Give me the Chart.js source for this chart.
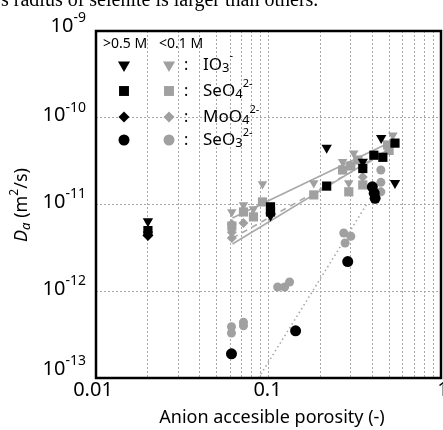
<!DOCTYPE html>
<html>
<head>
<meta charset="utf-8">
<script src="https://cdn.jsdelivr.net/npm/chart.js@4"></script>
<style>
  body { margin: 0; background: #fff; }
  canvas { display: block; }
</style>
</head>
<body>
<canvas id="chart" width="443" height="430"></canvas>
<script>
// >0.5 M (black markers)
const io3HighX  = [0.02, 0.02, 0.1027, 0.2174, 0.352, 0.45, 0.541];
const io3HighY  = [6.4e-12, 4.5e-12, 7.4e-12, 4.5e-11, 3.1e-11, 5.85e-11, 1.77e-11];
const seo4HighX = [0.02, 0.1027, 0.1027, 0.2174, 0.352, 0.408, 0.46, 0.541];
const seo4HighY = [5.0e-12, 9.4e-12, 8.2e-12, 1.63e-11, 2.6e-11, 3.7e-11, 3.5e-11, 5.1e-11];
const moo4HighX = [0.02];
const moo4HighY = [4.4e-12];
const seo3HighX = [0.061, 0.1436, 0.288, 0.40, 0.41, 0.415];
const seo3HighY = [1.9e-13, 3.5e-13, 2.2e-12, 1.6e-11, 1.35e-11, 1.18e-11];

// <0.1 M (grey markers)
const io3LowX  = [0.0613, 0.0716, 0.0818, 0.0923, 0.183, 0.269, 0.312, 0.292, 0.352, 0.526];
const io3LowY  = [8.2e-12, 9.9e-12, 8.9e-12, 1.72e-11, 1.77e-11, 3.1e-11, 3.9e-11, 1.77e-11, 2.5e-11, 6.3e-11];
const seo4LowX = [0.0613, 0.0716, 0.0818, 0.0923, 0.183, 0.269, 0.30, 0.33, 0.292, 0.352, 0.49, 0.50];
const seo4LowY = [5.65e-12, 8.2e-12, 7.2e-12, 1.07e-11, 1.29e-11, 2.5e-11, 2.78e-11, 3.26e-11, 1.4e-11, 1.68e-11, 4.85e-11, 4.2e-11];
const moo4LowX = [0.0613, 0.0613, 0.0613, 0.0716, 0.352];
const moo4LowY = [5.95e-12, 4.8e-12, 4.1e-12, 6.1e-12, 2.07e-11];
const seo3LowX = [0.061, 0.061, 0.0716, 0.0716, 0.113, 0.124, 0.1325, 0.273, 0.30, 0.278, 0.448, 0.448, 0.448];
const seo3LowY = [3.9e-13, 3.3e-13, 4.4e-13, 4.0e-13, 1.12e-12, 1.12e-12, 1.28e-12, 4.7e-12, 4.3e-12, 3.6e-12, 2.5e-11, 1.8e-11, 1.4e-11];

// fitted lines
const fitIo3X  = [0.0618, 0.512];
const fitIo3Y  = [7.0e-12, 5.25e-11];
const fitSeo4X = [0.0618, 0.512];
const fitSeo4Y = [4.1e-12, 4.25e-11];
const fitMoo4X = [0.0618, 0.512];
const fitMoo4Y = [3.5e-12, 4.5e-11];
const fitSeo3X = [0.0875, 0.37];
const fitSeo3Y = [1.0e-13, 1.0e-11];

// axis labels
const xTickValues = [0.01, 0.1, 1];
const xTickLabels = ['0.01', '0.1', '1'];
const yTickExps = [-9, -10, -11, -12, -13];

const BLACK = '#000000';
const GREY = '#a0a0a0';
const FONT = '"Noto Sans", sans-serif';

function pts(xs, ys) {
  return xs.map((x, i) => ({ x: x, y: ys[i] }));
}

function marks(label, xs, ys, color, style, radius, order) {
  return {
    label: label,
    data: pts(xs, ys),
    showLine: false,
    pointStyle: style,
    rotation: style === 'triangle' ? 180 : 0,
    pointRadius: radius,
    pointHoverRadius: radius,
    backgroundColor: color,
    borderColor: color,
    borderWidth: 0,
    order: order
  };
}

function fit(label, xs, ys, dash) {
  return {
    label: label,
    data: pts(xs, ys),
    showLine: true,
    pointRadius: 0,
    borderColor: '#a8a8a8',
    borderWidth: 1.6,
    borderDash: dash,
    fill: false,
    order: 3
  };
}

// gridline positions: every 1..9 x decade
const xGrid = [];
for (let d = -2; d < 0; d++) {
  for (let m = 1; m < 10; m++) xGrid.push(m * Math.pow(10, d));
}
xGrid.push(1);

function drawText(ctx, parts, x, y, align) {
  let total = 0;
  parts.forEach(p => {
    ctx.font = (p.italic ? 'italic ' : '') + p.size + 'px ' + FONT;
    p.w = ctx.measureText(p.t).width;
    total += p.w;
  });
  let cx = align === 'right' ? x - total : (align === 'center' ? x - total / 2 : x);
  ctx.textBaseline = 'middle';
  ctx.textAlign = 'left';
  parts.forEach(p => {
    ctx.font = (p.italic ? 'italic ' : '') + p.size + 'px ' + FONT;
    ctx.fillText(p.t, cx, y + (p.dy || 0));
    cx += p.w;
  });
}

function shape(ctx, kind, x, y, r, color) {
  ctx.fillStyle = color;
  ctx.beginPath();
  if (kind === 'tri') {
    const h = r * Math.sqrt(3) / 2;
    ctx.moveTo(x - h, y - r / 2);
    ctx.lineTo(x + h, y - r / 2);
    ctx.lineTo(x, y + r);
  } else if (kind === 'sq') {
    const s = r * Math.SQRT1_2;
    ctx.rect(x - s, y - s, 2 * s, 2 * s);
  } else if (kind === 'dia') {
    ctx.moveTo(x, y - r);
    ctx.lineTo(x + r, y);
    ctx.lineTo(x, y + r);
    ctx.lineTo(x - r, y);
  } else {
    ctx.arc(x, y, r, 0, Math.PI * 2);
  }
  ctx.closePath();
  ctx.fill();
}

const yLabelNudge = { '-9': -5, '-13': -9 };
const xLabelNudge = [-3, -1, 2];

const decorations = {
  id: 'decorations',
  afterDraw(chart) {
    const ctx = chart.ctx;
    const a = chart.chartArea;
    const xs = chart.scales.x, ys = chart.scales.y;
    ctx.save();

    // cropped caption from the page above the figure
    ctx.fillStyle = '#000';
    ctx.font = '20px "Liberation Serif", serif';
    ctx.textBaseline = 'alphabetic';
    ctx.textAlign = 'left';
    ctx.fillText('s radius of selenite is larger than others.', 1, 6);

    // frame
    ctx.strokeStyle = '#000';
    ctx.lineWidth = 2.5;
    ctx.strokeRect(a.left, a.top, a.right - a.left, a.bottom - a.top);

    // y tick labels 10^n
    ctx.fillStyle = '#000';
    yTickExps.forEach(e => {
      const nudge = yLabelNudge[String(e)] !== undefined ? yLabelNudge[String(e)] : -2;
      const py = ys.getPixelForValue(Math.pow(10, e)) + nudge;
      drawText(ctx, [{ t: '10', size: 20 }, { t: String(e), size: 14, dy: -8 }], 86, py, 'right');
    });

    // x tick labels
    xTickValues.forEach((v, i) => {
      const px = xs.getPixelForValue(v) + xLabelNudge[i];
      drawText(ctx, [{ t: xTickLabels[i], size: 20 }], px, a.bottom + 12, 'center');
    });

    // axis titles
    drawText(ctx, [{ t: 'Anion accesible porosity (-)', size: 18 }], 272, 418, 'center');
    ctx.save();
    ctx.translate(22, 205);
    ctx.rotate(-Math.PI / 2);
    drawText(ctx, [
      { t: 'D', size: 18, italic: true },
      { t: 'a', size: 13, italic: true, dy: 4 },
      { t: ' (m', size: 18 },
      { t: '2', size: 12, dy: -7 },
      { t: '/s)', size: 18 }
    ], 0, 0, 'center');
    ctx.restore();

    // legend
    drawText(ctx, [{ t: '>0.5 M', size: 14 }], 103, 44, 'left');
    drawText(ctx, [{ t: '<0.1 M', size: 14 }], 159, 44, 'left');
    const rows = [
      { y: 65, kind: 'tri', r: 7, parts: [{ t: 'IO', size: 17 }, { t: '3', size: 13, dy: 3 }, { t: '-', size: 11, dy: -9 }] },
      { y: 91, kind: 'sq', r: 7, parts: [{ t: 'SeO', size: 17 }, { t: '4', size: 13, dy: 3 }, { t: '2-', size: 11, dy: -7 }] },
      { y: 117, kind: 'dia', r: 5.5, parts: [{ t: 'MoO', size: 17 }, { t: '4', size: 13, dy: 3 }, { t: '2-', size: 11, dy: -7 }] },
      { y: 140, kind: 'circ', r: 5.5, parts: [{ t: 'SeO', size: 17 }, { t: '3', size: 13, dy: 3 }, { t: '2-', size: 11, dy: -7 }] }
    ];
    rows.forEach(row => {
      shape(ctx, row.kind, 124, row.y, row.r, BLACK);
      shape(ctx, row.kind, 169, row.y, row.r, GREY);
      ctx.fillStyle = '#000';
      drawText(ctx, [{ t: ':', size: 16 }], 184, row.y, 'left');
      drawText(ctx, row.parts, 203, row.y, 'left');
    });
    ctx.restore();
  }
};

new Chart(document.getElementById('chart'), {
  type: 'scatter',
  data: {
    datasets: [
      marks('IO3- >0.5 M', io3HighX, io3HighY, BLACK, 'triangle', 6, 0),
      marks('SeO4 >0.5 M', seo4HighX, seo4HighY, BLACK, 'rect', 6.5, 0),
      marks('MoO4 >0.5 M', moo4HighX, moo4HighY, BLACK, 'rectRot', 5.5, 0),
      marks('SeO3 >0.5 M', seo3HighX, seo3HighY, BLACK, 'circle', 5.5, 0),
      marks('IO3- <0.1 M', io3LowX, io3LowY, GREY, 'triangle', 5.5, 1),
      marks('SeO4 <0.1 M', seo4LowX, seo4LowY, GREY, 'rect', 6.5, 1),
      marks('MoO4 <0.1 M', moo4LowX, moo4LowY, GREY, 'rectRot', 5, 1),
      marks('SeO3 <0.1 M', seo3LowX, seo3LowY, GREY, 'circle', 4.5, 1),
      fit('IO3 fit', fitIo3X, fitIo3Y, []),
      fit('SeO4 fit', fitSeo4X, fitSeo4Y, [6, 5]),
      fit('MoO4 fit', fitMoo4X, fitMoo4Y, []),
      fit('SeO3 fit', fitSeo3X, fitSeo3Y, [1.5, 3])
    ]
  },
  options: {
    responsive: false,
    animation: false,
    layout: { autoPadding: false, padding: { left: 96, top: 31, right: 2, bottom: 52 } },
    plugins: { legend: { display: false }, tooltip: { enabled: false } },
    scales: {
      x: {
        type: 'logarithmic',
        min: 0.01,
        max: 1,
        afterBuildTicks: s => { s.ticks = xGrid.map(v => ({ value: v })); },
        afterFit: s => { s.height = 0; },
        ticks: { display: false },
        border: { display: false, dash: [2, 2] },
        grid: { drawTicks: false, color: '#a8a8a8', lineWidth: 1 }
      },
      y: {
        type: 'logarithmic',
        min: 1e-13,
        max: 1e-9,
        afterBuildTicks: s => { s.ticks = yTickExps.map(e => ({ value: Math.pow(10, e) })); },
        afterFit: s => { s.width = 0; },
        ticks: { display: false },
        border: { display: false, dash: [2, 2] },
        grid: { drawTicks: false, color: '#a8a8a8', lineWidth: 1 }
      }
    }
  },
  plugins: [decorations]
});
</script>
</body>
</html>
